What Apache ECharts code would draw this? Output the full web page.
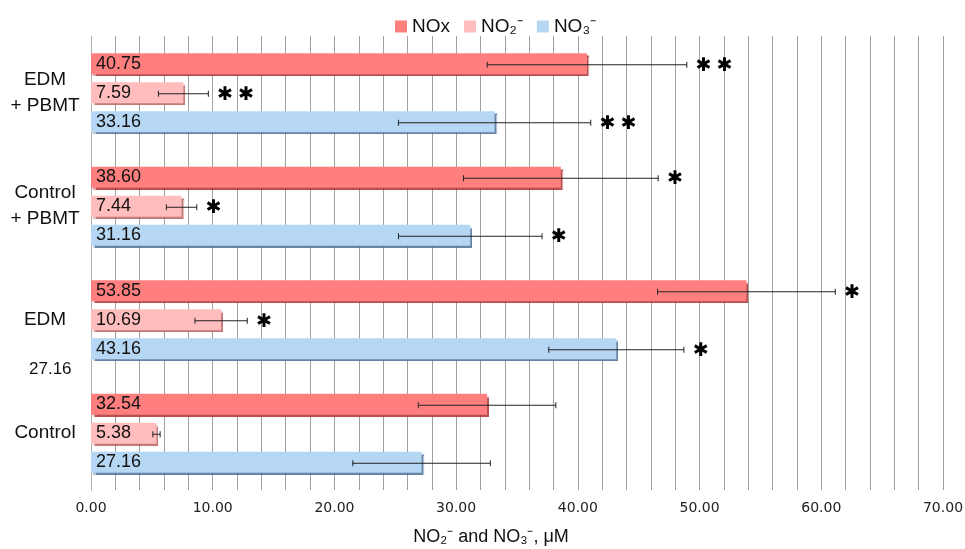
<!DOCTYPE html>
<html>
<head>
<meta charset="utf-8">
<script src="https://cdn.jsdelivr.net/npm/echarts@6/dist/echarts.min.js"></script>
<style>
html, body { margin: 0; padding: 0; background: #fff; }
#chart { width: 965px; height: 549px; }
</style>
</head>
<body>
<div id="chart"></div>
<script>
// categories bottom -> top
const categories = ['Control', 'EDM', 'Control\n+ PBMT', 'EDM\n+ PBMT'];
const noxValues = [32.54, 53.85, 38.60, 40.75];
const no2Values = [5.38, 10.69, 7.44, 7.59];
const no3Values = [27.16, 43.16, 31.16, 33.16];
const noxErrors = [5.65, 7.3, 8.0, 8.2];
const no2Errors = [0.3, 2.15, 1.25, 2.05];
const no3Errors = [5.65, 5.55, 5.9, 7.9];
const noxMarks = ['', '*', '*', '**'];
const no2Marks = ['', '*', '*', '**'];
const no3Marks = ['', '*', '*', '**'];

const BAR_W = 21;
const STEP = 29;

const groups = [
	{name: 'NOx', color: '#ff7f7f', shade: 'rgba(170,50,50,0.85)', values: noxValues, errors: noxErrors, marks: noxMarks},
	{name: 'NO₂⁻', color: '#ffbdbd', shade: 'rgba(180,90,90,0.8)', values: no2Values, errors: no2Errors, marks: no2Marks},
	{name: 'NO₃⁻', color: '#b5d7f3', shade: 'rgba(80,110,150,0.85)', values: no3Values, errors: no3Errors, marks: no3Marks}
];

let myChart = echarts.init(document.getElementById('chart'));

let barSeries = groups.map(g => ({
	name: g.name,
	type: 'bar',
	data: g.values,
	barWidth: BAR_W,
	barGap: '38%',
	itemStyle: {
		color: g.color,
		shadowColor: g.shade,
		shadowOffsetX: 2,
		shadowOffsetY: 2,
		shadowBlur: 1
	},
	label: {
		show: true,
		position: 'insideLeft',
		distance: 5,
		color: '#111',
		fontFamily: 'Liberation Sans',
		fontSize: 18,
		formatter: p => p.value.toFixed(2)
	},
	z: 2
}));

// error bars + significance stars
let errSeries = groups.map((g, k) => ({
	name: g.name + '_err',
	type: 'custom',
	silent: true,
	z: 5,
	encode: {x: [1], y: 0},
	data: g.values.map((v, i) => [i, v, g.errors[i]]),
	renderItem: (params, api) => {
		let cat = api.value(0);
		let mean = api.value(1);
		let err = api.value(2);
		let lo = api.coord([mean - err, cat]);
		let hi = api.coord([mean + err, cat]);
		let y = lo[1] + (k - 1) * STEP + 1;
		let children = [
			{type: 'line', shape: {x1: lo[0], y1: y, x2: hi[0], y2: y}, style: {stroke: '#222', lineWidth: 1}},
			{type: 'line', shape: {x1: lo[0], y1: y - 3, x2: lo[0], y2: y + 3}, style: {stroke: '#222', lineWidth: 1}},
			{type: 'line', shape: {x1: hi[0], y1: y - 3, x2: hi[0], y2: y + 3}, style: {stroke: '#222', lineWidth: 1}}
		];
		let mark = g.marks[params.dataIndex];
		for (let j = 0; j < mark.length; j++) {
			children.push({
				type: 'text',
				style: {
					x: hi[0] + 17 + j * 21,
					y: y + 1,
					text: '✱',
					fill: '#000',
					font: 'bold 19px "DejaVu Sans"',
					align: 'center',
					verticalAlign: 'middle'
				}
			});
		}
		return {type: 'group', children: children};
	}
}));

let options = {
	animation: false,
	textStyle: {fontFamily: 'Liberation Sans'},
	legend: {
		top: 12,
		left: 390,
		icon: 'rect',
		itemWidth: 12,
		itemHeight: 12,
		itemGap: 14,
		data: groups.map(g => g.name),
		textStyle: {fontFamily: 'Liberation Sans', fontSize: 19, color: '#111'}
	},
	grid: {left: 91, right: 22, top: 36, bottom: 59, containLabel: false, outerBoundsMode: 'none'},
	xAxis: {
		type: 'value',
		min: 0,
		max: 70,
		interval: 10,
		axisLine: {show: false},
		axisTick: {show: false},
		minorTick: {show: false, splitNumber: 5},
		splitLine: {show: true, lineStyle: {color: '#a0a0a0', width: 1}},
		minorSplitLine: {show: true, lineStyle: {color: '#a0a0a0', width: 1}},
		axisLabel: {
			margin: 11,
			color: '#222',
			fontFamily: 'DejaVu Sans',
			fontSize: 14,
			formatter: v => v.toFixed(2)
		},
		name: 'NO₂⁻ and NO₃⁻, μM',
		nameLocation: 'middle',
		nameGap: 38,
		nameTextStyle: {fontFamily: 'Liberation Sans', fontSize: 18, color: '#111', padding: [0, 52, 0, 0]}
	},
	yAxis: {
		type: 'category',
		data: categories,
		axisLine: {show: true, lineStyle: {color: '#b0b0b0'}},
		axisTick: {show: false},
		splitLine: {show: false},
		axisLabel: {
			margin: 46,
			align: 'center',
			color: '#111',
			fontFamily: 'Liberation Sans',
			fontSize: 19,
			lineHeight: 26
		}
	},
	graphic: [{
		type: 'text',
		left: 29,
		top: 361,
		style: {text: '27.16', font: '17px "Liberation Sans"', fill: '#111'}
	}],
	series: barSeries.concat(errSeries)
};
myChart.setOption(options);
</script>
</body>
</html>
